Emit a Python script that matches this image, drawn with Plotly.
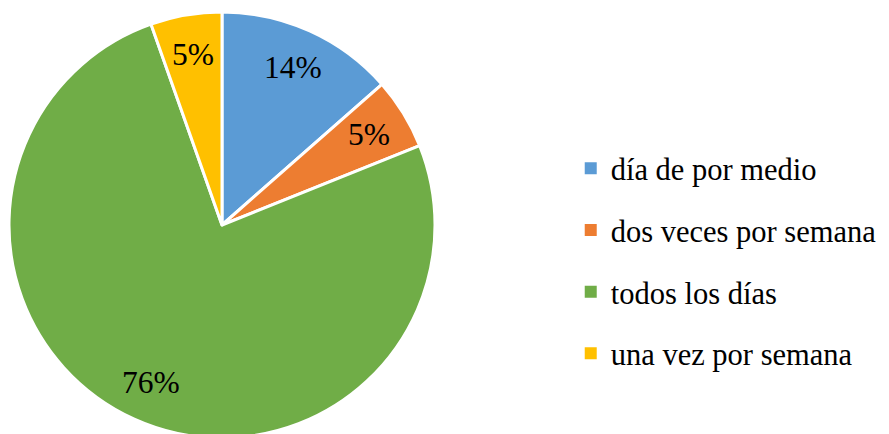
import math
import plotly.graph_objects as go

categories = ["día de por medio", "dos veces por semana", "todos los días", "una vez por semana"]
counts = [5, 2, 28, 2]
colors = ["#5B9BD5", "#ED7D31", "#70AD47", "#FFC000"]

FONT = "Liberation Serif, Times New Roman, serif"
W, H = 889, 434

# pie domain in pixels (figure coords; page adds an 8px body margin)
dom_x = (1, 427)
dom_y = (4, 430)  # from bottom

fig = go.Figure()
fig.add_trace(go.Pie(
    labels=categories,
    values=counts,
    sort=False,
    direction="clockwise",
    rotation=0,
    marker=dict(colors=colors, line=dict(color="white", width=3)),
    textinfo="none",
    domain=dict(x=[dom_x[0] / W, dom_x[1] / W], y=[dom_y[0] / H, dom_y[1] / H]),
    showlegend=False,
    hoverinfo="label+percent",
))

# percentage labels placed along each slice bisector
cx = (dom_x[0] + dom_x[1]) / 2
cy = (dom_y[0] + dom_y[1]) / 2
R = min(dom_x[1] - dom_x[0], dom_y[1] - dom_y[0]) / 2
total = sum(counts)
cum = 0
for v in counts:
    mid = (cum + v / 2) / total * 2 * math.pi
    cum += v
    px = cx + 0.81 * R * math.sin(mid)
    py = cy + 0.81 * R * math.cos(mid)
    fig.add_annotation(
        x=px / W, y=py / H, xref="paper", yref="paper",
        text=f"{round(100 * v / total)}%", showarrow=False,
        font=dict(family=FONT, size=31.5, color="black"),
        xanchor="center", yanchor="middle",
    )

# Legend entries (square markers) matching the slices
for name, col in zip(categories, colors):
    fig.add_trace(go.Scatter(
        x=[None], y=[None], mode="markers", name=name,
        marker=dict(symbol="square", size=12, color=col),
        legendgroup=name, showlegend=True,
    ))

fig.update_layout(
    width=W, height=H,
    margin=dict(l=0, r=0, t=0, b=0),
    paper_bgcolor="white", plot_bgcolor="white",
    xaxis=dict(visible=False), yaxis=dict(visible=False),
    legend=dict(
        x=0.633, y=0.417, xanchor="left", yanchor="middle",
        font=dict(family=FONT, size=30.5, color="black"),
        tracegroupgap=19, itemwidth=30,
        bgcolor="rgba(0,0,0,0)",
    ),
    showlegend=True,
)

fig.write_html("out.html")
